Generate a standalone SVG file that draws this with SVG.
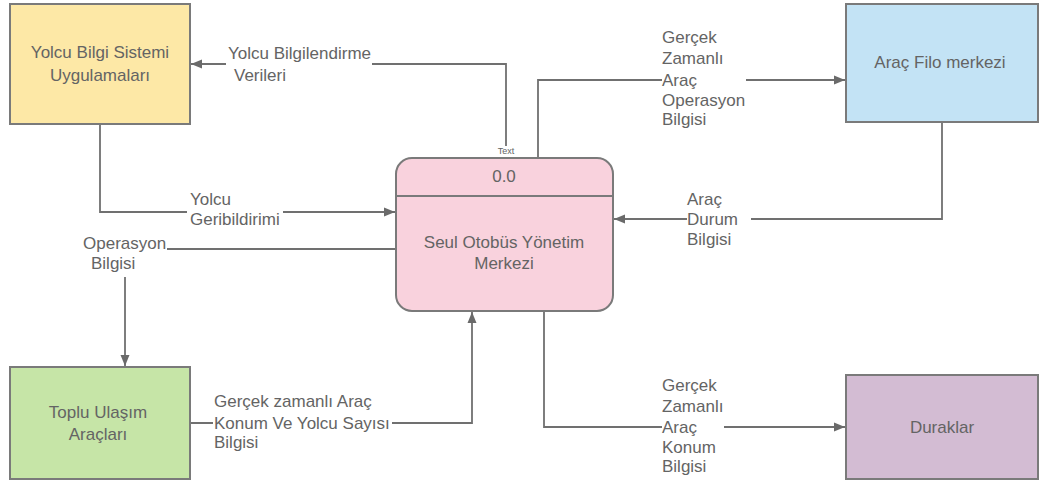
<svg xmlns="http://www.w3.org/2000/svg" width="1045" height="481" viewBox="0 0 1045 481">
<style>
.box{stroke:#7a7a7a;stroke-width:2}
.t{font-family:"Liberation Sans",Arial,sans-serif;font-size:17px;fill:#646464}
.c{text-anchor:middle}
.ln{fill:none;stroke:#707070;stroke-width:1.8}
.sm{font-family:"Liberation Sans",Arial,sans-serif;font-size:9px;fill:#646464;text-anchor:middle}
</style>
<defs>
<marker id="ar" markerUnits="userSpaceOnUse" markerWidth="12" markerHeight="10" refX="11" refY="5" orient="auto">
<path d="M0,0.5 L11,5 L0,9.5 Z" fill="#6a6a6a"/>
</marker>
</defs>
<rect width="1045" height="481" fill="#ffffff"/>
<g id="connectors">
<path class="ln" d="M506,146 V64 H372 M226,64 H191" marker-end="url(#ar)"/>
<text class="sm" x="506" y="154">Text</text>
<path class="ln" d="M100,124 V212 H187 M283,212 H395" marker-end="url(#ar)"/>
<path class="ln" d="M396,249 H167"/>
<path class="ln" d="M125,277 V366" marker-end="url(#ar)"/>
<path class="ln" d="M190,423 H213 M392,423 H472 V312" marker-end="url(#ar)"/>
<path class="ln" d="M538,158 V80 H662 M746,80 H845" marker-end="url(#ar)"/>
<path class="ln" d="M942,122 V219 H751 M687,219 H614" marker-end="url(#ar)"/>
<path class="ln" d="M544,311 V427 H662 M724,427 H845" marker-end="url(#ar)"/>
<g class="t">
<text x="228" y="59">Yolcu Bilgilendirme</text>
<text x="234" y="81">Verileri</text>
<text x="190" y="205">Yolcu</text>
<text x="190" y="225">Geribildirimi</text>
<text x="83" y="249">Operasyon</text>
<text x="91" y="269">Bilgisi</text>
<text x="214" y="407">Gerçek zamanlı Araç</text>
<text x="214" y="429">Konum Ve Yolcu Sayısı</text>
<text x="214" y="448">Bilgisi</text>
<text x="662" y="43">Gerçek</text>
<text x="662" y="64">Zamanlı</text>
<text x="662" y="86">Araç</text>
<text x="662" y="106">Operasyon</text>
<text x="662" y="125">Bilgisi</text>
<text x="687" y="205">Araç</text>
<text x="687" y="225">Durum</text>
<text x="687" y="245">Bilgisi</text>
<text x="662" y="391">Gerçek</text>
<text x="662" y="412">Zamanlı</text>
<text x="662" y="433">Araç</text>
<text x="662" y="453">Konum</text>
<text x="662" y="472">Bilgisi</text>
</g>
</g>
<g id="yolcu-bilgi">
<rect class="box" x="10" y="4" width="180" height="120" fill="#fde8a6"/>
<text class="t c" x="100" y="58">Yolcu Bilgi Sistemi</text>
<text class="t c" x="100" y="81">Uygulamaları</text>
</g>
<g id="merkez">
<rect class="box" x="396" y="158" width="217" height="153" rx="16" fill="#f9d2dd"/>
<line x1="396" y1="196" x2="613" y2="196" stroke="#7a7a7a" stroke-width="2"/>
<text class="t c" x="504" y="182">0.0</text>
<text class="t c" x="504" y="248">Seul Otobüs Yönetim</text>
<text class="t c" x="504" y="269">Merkezi</text>
</g>
<g id="arac-filo">
<rect class="box" x="846" y="4" width="192" height="118" fill="#c3e3f5"/>
<text class="t c" x="940" y="68">Araç Filo merkezi</text>
</g>
<g id="toplu-ulasim">
<rect class="box" x="10" y="367" width="180" height="112" fill="#c6e5a7"/>
<text class="t c" x="98" y="418">Toplu Ulaşım</text>
<text class="t c" x="98" y="440">Araçları</text>
</g>
<g id="duraklar">
<rect class="box" x="846" y="375" width="192" height="104" fill="#d3bcd3"/>
<text class="t c" x="942" y="433">Duraklar</text>
</g>
</svg>
